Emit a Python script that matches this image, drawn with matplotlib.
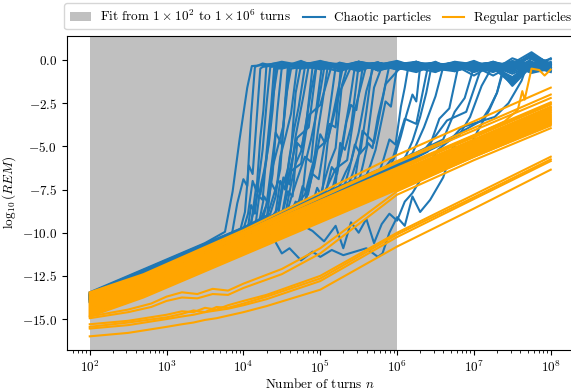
import numpy as np
import matplotlib
matplotlib.use("Agg")
import matplotlib.pyplot as plt
from matplotlib.patches import Patch
from matplotlib.lines import Line2D
from matplotlib.ticker import MultipleLocator

plt.rcParams.update({
    "font.family": "serif",
    "font.serif": ["cmr10"],
    "mathtext.fontset": "cm",
    "axes.formatter.use_mathtext": True,
    "font.size": 9.5,
})

BLUE = "#1f77b4"
ORANGE = "orange"
GREY = "#c0c0c0"

FIT_START, FIT_END = 1e2, 1e6

# ---- regular particles: log10(REM) against log10(n) ----
REG_EXP = [2, 2.7, 4, 6, 8]
REGULAR = [
    [-13.45, -12.40, -9.85, -5.50, -1.60],
    [-13.50, -12.45, -9.95, -5.85, -2.00],
    [-13.55, -12.48, -10.00, -5.95, -2.20],
    [-13.60, -12.50, -10.03, -6.24, -2.45],
    [-13.66, -12.56, -10.10, -6.31, -2.52],
    [-13.72, -12.62, -10.16, -6.37, -2.58],
    [-13.84, -12.74, -10.28, -6.49, -2.70],
    [-13.90, -12.80, -10.34, -6.54, -2.75],
    [-13.95, -12.85, -10.39, -6.61, -2.82],
    [-14.00, -12.90, -10.44, -6.66, -2.88],
    [-14.06, -12.96, -10.50, -6.72, -2.93],
    [-14.12, -13.02, -10.56, -6.78, -3.00],
    [-14.18, -13.08, -10.62, -6.84, -3.05],
    [-14.24, -13.14, -10.68, -6.90, -3.12],
    [-14.30, -13.20, -10.74, -6.96, -3.18],
    [-14.36, -13.26, -10.80, -7.02, -3.24],
    [-14.42, -13.32, -10.86, -7.08, -3.30],
    [-14.48, -13.38, -10.92, -7.14, -3.36],
    [-14.54, -13.44, -10.98, -7.20, -3.42],
    [-14.60, -13.50, -11.04, -7.26, -3.48],
    [-14.66, -13.56, -11.10, -7.32, -3.54],
    [-14.72, -13.62, -11.16, -7.38, -3.60],
    [-14.78, -13.68, -11.22, -7.44, -3.66],
    [-14.85, -13.75, -11.29, -7.51, -3.72],
]

SLOW_EXP = [2, 2.5, 2.8, 3.0, 3.2, 3.4, 3.6, 3.8, 4.0, 4.5, 5, 6, 7, 8]
REGULAR_SLOW = [
    [-14.85, -14.45, -14.10, -13.70, -13.45, -13.55, -13.25, -13.35, -12.95, -12.10, -10.90, -7.60, -5.60, -3.80],
    [-14.95, -14.60, -14.30, -13.95, -13.75, -13.80, -13.55, -13.60, -13.20, -12.40, -11.20, -7.80, -5.80, -3.95],
]

LOWER_EXP = [2, 2.5, 3, 3.2, 3.35, 3.5, 3.65, 3.8, 4, 4.3, 5, 6, 7, 8]
REGULAR_LOWER = [
    [-15.30, -15.10, -14.75, -14.55, -14.60, -14.35, -14.45, -14.20, -13.95, -13.60, -12.50, -10.00, -7.80, -5.60],
    [-15.45, -15.20, -14.90, -14.70, -14.50, -14.60, -14.30, -14.35, -14.10, -13.70, -12.65, -10.10, -7.95, -5.75],
    [-15.55, -15.35, -15.00, -14.85, -14.75, -14.60, -14.50, -14.40, -14.20, -13.85, -12.80, -10.25, -8.05, -5.85],
    [-16.00, -15.80, -15.45, -15.30, -15.20, -15.05, -14.95, -14.80, -14.60, -14.25, -13.30, -10.80, -8.60, -6.35],
]

# one regular orbit that turns chaotic near the end
LATE_EXP = [2, 2.7, 4, 6, 7.4, 7.57, 7.63, 7.66, 7.75, 7.85, 7.92, 8.0]
LATE_VAL = [-13.78, -12.68, -10.21, -6.41, -3.55, -2.90, -1.80, -2.30, -0.50, -0.58, -0.90, -0.55]

# ---- chaotic particles: growth phase, then saturation ----
CHAOTIC_EXP = [
    [2, 3, 3.5, 3.76, 3.86, 3.95, 4.05, 4.11],
    [2, 3, 3.85, 3.92, 4.0, 4.05, 4.1, 4.15],
    [2, 3, 3.95, 4.02, 4.07, 4.12, 4.16, 4.22],
    [2, 3, 4.0, 4.06, 4.12, 4.17, 4.22, 4.26, 4.3],
    [2, 3, 4.05, 4.1, 4.15, 4.2, 4.25, 4.3, 4.35],
    [2, 3, 4, 4.1, 4.17, 4.22, 4.3, 4.34, 4.38, 4.45],
    [2, 3, 4, 4.15, 4.22, 4.27, 4.33, 4.38, 4.42],
    [2, 3, 4, 4.2, 4.27, 4.32, 4.38, 4.44, 4.5],
    [2, 3, 4, 4.25, 4.32, 4.38, 4.45, 4.52, 4.56, 4.6],
    [2, 3, 4, 4.3, 4.36, 4.42, 4.48, 4.55, 4.62],
    [2, 3, 4, 4.35, 4.42, 4.48, 4.55, 4.62, 4.7],
    [2, 3, 4, 4.4, 4.48, 4.54, 4.6, 4.66, 4.72, 4.8],
    [2, 3, 4, 4.45, 4.52, 4.58, 4.62, 4.68, 4.75],
    [2, 3, 4, 4.5, 4.58, 4.64, 4.7, 4.76, 4.82, 4.9],
    [2, 3, 4, 4.55, 4.62, 4.68, 4.75, 4.82, 4.88, 4.95],
    [2, 3, 4, 4.6, 4.68, 4.75, 4.82, 4.88, 4.96, 5.05],
    [2, 3, 4, 4.7, 4.77, 4.84, 4.9, 4.97, 5.03, 5.1],
    [2, 3, 4, 4.8, 4.86, 4.92, 5.0, 5.06, 5.12, 5.2],
    [2, 3, 4, 4.9, 4.96, 5.02, 5.1, 5.16, 5.22, 5.3],
    [2, 3, 4, 5.0, 5.06, 5.12, 5.2, 5.28, 5.35],
    [2, 3, 4, 5.05, 5.12, 5.2, 5.26, 5.32, 5.4, 5.5],
    [2, 3, 4, 5, 5.15, 5.22, 5.28, 5.34, 5.4, 5.47, 5.55],
    [2, 3, 4, 5, 5.25, 5.33, 5.4, 5.5, 5.6, 5.7],
    [2, 3, 4, 5, 5.35, 5.42, 5.5, 5.6, 5.7, 5.8],
    [2, 3, 4, 5, 5.5, 5.56, 5.62, 5.68, 5.75, 5.82, 5.9],
    [2, 3, 4, 5, 5.6, 5.66, 5.72, 5.78, 5.85, 5.92, 6.0],
    [2, 3, 4, 5, 5.75, 5.82, 5.9, 5.98, 6.05, 6.1, 6.15],
    [2, 3, 4, 5, 5.9, 5.97, 6.05, 6.12, 6.2, 6.25, 6.3],
    [2, 3, 4, 5, 6.05, 6.12, 6.2, 6.25, 6.3, 6.38, 6.45],
    [2, 3, 4, 5, 6, 6.2, 6.35, 6.5, 6.6],
    [2, 3, 4, 5, 6, 6.4, 6.55, 6.68, 6.8],
    [2, 3, 4, 5, 6, 6.6, 6.75, 6.88, 7.0],
    [2, 3, 4, 5, 6, 6.8, 6.95, 7.1, 7.25],
    [2, 3, 4, 4.25, 4.4, 4.5, 4.6, 4.75, 4.9, 5.0, 5.15, 5.3, 5.45, 5.6, 5.75,
     5.81, 5.9, 6.0, 6.1, 6.2, 6.3, 6.43, 6.6, 6.73, 6.9, 7.05, 7.2, 7.3, 7.38],
    [2, 3, 4, 4.5, 4.7, 4.9, 5.05, 5.2, 5.3, 5.4, 5.5, 5.6, 5.7, 5.8, 5.9, 6.0,
     6.1, 6.2, 6.35, 6.53, 6.7, 6.84, 7.05, 7.27, 7.45, 7.62, 7.7],
    [2, 3, 4, 5, 6, 6.5, 7.1, 7.2, 7.3, 7.4],
    [2, 3, 4, 4.3, 4.45, 4.55, 4.7, 4.85, 4.95],
    [2, 3, 4, 4.5, 4.6, 4.75, 4.85, 5.0, 5.15],
    [2, 3, 4, 4.65, 4.8, 4.95, 5.1, 5.25, 5.4],
    [2, 3, 4, 5, 5.2, 5.35, 5.45, 5.6],
    [2, 3, 4, 5, 5.45, 5.55, 5.7, 5.85, 6.05],
    [2, 3, 4, 4.2, 4.3, 4.42, 4.5, 4.58],
    [2, 3, 4, 5, 5.8, 5.95, 6.1, 6.25, 6.4],
    [2, 3, 4, 5, 6, 6.3, 6.5, 6.65, 6.9, 7.1],
    [2, 3, 4, 4.35, 4.45, 4.52, 4.6, 4.68, 4.78, 4.85],
    [2, 3, 4, 4.55, 4.62, 4.7, 4.8, 4.88, 4.95, 5.02],
    [2, 3, 4, 4.75, 4.82, 4.9, 4.98, 5.05, 5.12, 5.2, 5.27],
    [2, 3, 4, 5, 5.08, 5.15, 5.22, 5.3, 5.38, 5.45],
    [2, 3, 4, 5, 5.3, 5.38, 5.45, 5.52, 5.6, 5.68],
    [2, 3, 4, 4.1, 4.18, 4.25, 4.3, 4.36, 4.4],
]
CHAOTIC_VAL = [
    [-13.45, -11.55, -10.6, -9.95, -7.6, -4.6, -1.6, -0.35],
    [-13.65, -11.8, -10.1, -8.3, -6.9, -7.3, -3.2, -0.4],
    [-13.8, -11.9, -10.0, -8.8, -6.1, -6.6, -4.2, -0.5],
    [-13.55, -11.7, -9.8, -8.9, -7.0, -7.6, -4.5, -2.9, -0.3],
    [-13.9, -12.0, -10.0, -8.4, -8.9, -6.9, -5.2, -2.6, -0.4],
    [-13.7, -11.8, -9.9, -9.5, -7.2, -7.8, -5.8, -4.1, -2.3, -0.3],
    [-14.0, -12.1, -10.2, -9.8, -7.4, -6.4, -4.9, -2.9, -0.5],
    [-13.8, -11.9, -10.0, -9.5, -7.9, -8.3, -6.6, -3.0, -0.4],
    [-13.6, -11.75, -9.85, -9.3, -8.0, -6.2, -5.0, -3.8, -2.2, -0.3],
    [-13.9, -12.0, -10.05, -9.3, -7.1, -7.6, -6.3, -2.2, -0.5],
    [-13.5, -11.6, -9.7, -8.9, -7.9, -5.6, -4.4, -3.1, -0.3],
    [-14.05, -12.1, -10.2, -9.4, -7.0, -7.5, -5.6, -4.0, -2.7, -0.4],
    [-13.7, -11.8, -9.9, -9.0, -7.2, -6.3, -5.2, -1.9, -0.3],
    [-13.8, -11.9, -10.0, -9.0, -7.6, -7.9, -4.8, -5.1, -3.6, -0.4],
    [-13.6, -11.7, -9.8, -8.8, -7.2, -6.0, -5.3, -3.5, -1.8, -0.3],
    [-13.95, -12.05, -10.15, -9.0, -8.2, -8.5, -5.7, -4.6, -2.9, -0.5],
    [-13.75, -11.85, -9.95, -8.6, -7.3, -7.8, -6.5, -4.1, -2.4, -0.3],
    [-13.55, -11.65, -9.75, -8.2, -7.1, -6.2, -4.3, -4.8, -3.0, -0.4],
    [-13.85, -11.95, -10.05, -8.3, -7.4, -7.9, -4.6, -3.3, -2.0, -0.3],
    [-13.65, -11.75, -9.85, -7.9, -6.9, -6.0, -5.1, -1.5, -0.4],
    [-14.0, -12.1, -10.2, -8.2, -7.6, -7.2, -4.8, -5.2, -3.9, -0.3],
    [-13.7, -11.8, -9.9, -8.0, -7.6, -6.4, -5.3, -3.6, -2.6, -2.9, -0.5],
    [-13.6, -11.7, -9.8, -7.9, -7.3, -6.5, -5.9, -4.2, -1.8, -0.3],
    [-13.9, -12.0, -10.1, -8.2, -7.4, -6.6, -5.5, -5.0, -1.6, -0.4],
    [-13.75, -11.85, -9.95, -8.05, -7.1, -6.0, -4.8, -5.1, -3.3, -2.0, -0.3],
    [-13.55, -11.65, -9.75, -7.85, -6.7, -6.0, -5.2, -3.9, -2.4, -2.7, -0.4],
    [-13.8, -11.9, -10.0, -8.1, -6.7, -5.8, -4.6, -4.9, -2.7, -1.6, -0.3],
    [-13.65, -11.75, -9.85, -7.95, -6.2, -5.6, -4.4, -3.2, -2.0, -2.4, -0.4],
    [-13.7, -11.8, -9.9, -8.0, -6.0, -5.5, -4.7, -4.0, -3.3, -1.9, -0.3],
    [-13.6, -11.7, -9.8, -7.9, -6.0, -5.4, -3.9, -2.1, -0.4],
    [-13.85, -11.95, -10.05, -8.15, -6.25, -5.3, -3.4, -2.8, -0.3],
    [-13.5, -11.6, -9.7, -7.8, -5.9, -4.6, -3.0, -2.2, -0.4],
    [-13.75, -11.85, -9.95, -8.05, -6.15, -4.4, -3.3, -1.5, -0.3],
    [-13.9, -12.0, -10.1, -9.6, -10.4, -11.2, -10.9, -11.6, -11.1, -11.4, -11.0,
     -11.3, -11.1, -10.9, -11.4, -11.2, -10.0, -9.1, -9.6, -7.9, -8.8, -8.1,
     -6.8, -5.0, -5.4, -4.1, -2.9, -1.9, -0.5],
    [-13.6, -11.7, -9.8, -9.0, -9.4, -9.9, -10.5, -9.6, -10.9, -9.4, -10.0, -9.2,
     -10.6, -9.5, -8.9, -9.3, -8.2, -7.7, -6.6, -5.2, -4.6, -3.9, -3.6, -3.3,
     -2.5, -1.2, -0.2],
    [-13.65, -11.75, -9.85, -7.95, -6.05, -5.0, -3.5, -2.8, -1.9, -0.4],
    [-13.7, -11.8, -9.9, -9.2, -7.0, -7.4, -4.5, -3.9, -0.4],
    [-13.8, -11.9, -10.0, -9.0, -6.5, -6.0, -3.2, -2.6, -0.3],
    [-13.6, -11.7, -9.8, -8.5, -7.8, -5.2, -4.6, -1.9, -0.4],
    [-13.9, -12.0, -10.1, -8.2, -6.3, -5.8, -2.9, -0.3],
    [-13.75, -11.85, -9.95, -8.05, -7.0, -4.1, -4.8, -1.4, -0.4],
    [-13.65, -11.75, -9.85, -9.5, -8.4, -4.2, -4.9, -0.3],
    [-13.7, -11.8, -9.9, -8.0, -6.5, -5.6, -3.4, -3.7, -0.4],
    [-13.8, -11.9, -10.0, -8.1, -6.2, -5.5, -4.4, -3.5, -3.0, -0.4],
    [-13.75, -11.85, -9.95, -9.2, -8.6, -6.8, -7.2, -4.4, -2.1, -0.35],
    [-13.85, -11.95, -10.05, -9.1, -8.0, -6.9, -5.6, -5.9, -2.8, -0.4],
    [-13.6, -11.7, -9.8, -8.5, -8.0, -6.6, -6.9, -5.0, -3.7, -3.9, -0.3],
    [-13.7, -11.8, -9.9, -8.0, -7.5, -6.2, -6.6, -4.5, -2.5, -0.4],
    [-13.8, -11.9, -10.0, -8.1, -7.5, -6.3, -4.9, -5.4, -3.0, -0.3],
    [-13.65, -11.75, -9.85, -9.4, -7.8, -8.1, -5.4, -2.7, -0.45],
]
# saturated values, sampled on the grid below from the first point after the jump
PLATEAU_EXP = [4.25, 4.5, 4.75, 5.0, 5.25, 5.5, 5.75, 6.0,
               6.25, 6.5, 6.75, 7.0, 7.25, 7.5, 7.75, 8.0]
CHAOTIC_PLATEAU = [
    [-0.3, -0.15, -0.4, -0.25, -0.5, -0.2, -0.35, -0.1, -0.45, -0.3, -0.2, -0.55, -0.25, -0.4, -0.15, -0.35],
    [-0.2, -0.45, -0.1, -0.35, -0.25, -0.55, -0.3, -0.4, -0.15, -0.5, -0.35, -0.2, -0.6, 0.1, -0.3, -0.5],
    [-0.4, -0.25, -0.3, -0.05, -0.35, -0.45, -0.2, -0.3, -0.55, -0.25, -0.4, -0.3, -0.15, -0.45, 0.3, -0.2],
    [-0.1, -0.3, -0.5, -0.2, -0.4, -0.15, -0.45, -0.25, -0.35, -0.6, -0.2, -0.4, -0.3, -0.1, -0.55],
    [-0.35, -0.2, -0.15, -0.45, -0.3, -0.5, -0.25, -0.1, -0.4, -0.3, -0.9, -0.25, -0.45, -0.2, -0.4],
    [-0.25, -0.5, -0.3, -0.35, -0.1, -0.4, -0.3, -0.55, -0.2, -0.45, -0.3, -0.15, -1.2, -0.35, -0.25],
    [-0.45, -0.3, -0.2, -0.55, -0.25, -0.35, -0.45, -0.15, -0.3, -0.25, -0.5, -0.35, -0.2, 0.45, -0.3],
    [-0.2, -0.35, -0.45, -0.1, -0.3, -0.2, -0.5, -0.4, -0.15, -0.35, -0.6, -0.3, -0.45, -0.6],
    [-0.3, -0.1, -0.25, -0.4, -0.5, -0.3, -0.2, -0.35, -0.45, -0.25, -0.15, -1.5, -0.35, -0.2],
    [-0.4, -0.5, -0.2, -0.3, -0.15, -0.45, -0.35, -0.25, -0.55, -0.2, -0.4, -0.3, 0.2, -0.45],
    [-0.15, -0.3, -0.35, -0.5, -0.25, -0.1, -0.4, -0.3, -0.2, -0.5, -0.3, -0.45, -0.25, -0.35],
    [-0.35, -0.2, -0.45, -0.3, -0.4, -0.25, -0.15, -0.5, -0.35, -0.2, -0.4, -0.7, -0.1],
    [-0.25, -0.4, -0.1, -0.3, -0.55, -0.35, -0.2, -0.3, -0.45, -0.15, -0.3, -0.5, -0.3],
    [-0.5, -0.25, -0.35, -0.2, -0.3, -0.45, -0.4, -0.1, -0.25, -0.6, -0.35, -0.2, -0.4],
    [-0.2, -0.35, -0.3, -0.45, -0.15, -0.25, -0.5, -0.35, -0.3, -0.4, -1.0, -0.3, -0.6],
    [-0.3, -0.45, -0.2, -0.35, -0.25, -0.4, -0.3, -0.55, -0.2, -0.35, 0.35, -0.25],
    [-0.4, -0.2, -0.3, -0.15, -0.45, -0.35, -0.25, -0.3, -0.5, -0.2, -0.45, -0.35],
    [-0.15, -0.4, -0.35, -0.25, -0.3, -0.2, -0.45, -0.15, -0.35, -0.8, -0.3, -0.45],
    [-0.35, -0.25, -0.5, -0.3, -0.2, -0.4, -0.3, -0.25, -0.55, -0.3, -0.2],
    [-0.25, -0.3, -0.2, -0.45, -0.35, -0.15, -0.4, -0.3, -0.2, -0.4, -0.65],
    [-0.4, -0.2, -0.35, -0.3, -0.25, -0.5, -0.35, -1.3, -0.25, -0.4],
    [-0.3, -0.45, -0.25, -0.2, -0.4, -0.3, -0.15, -0.45, 0.25, -0.3],
    [-0.2, -0.35, -0.3, -0.5, -0.25, -0.35, -0.6, -0.3, -0.4, -0.2],
    [-0.35, -0.2, -0.4, -0.3, -0.45, -0.2, -0.35, -0.5, -0.3],
    [-0.25, -0.4, -0.3, -0.15, -0.35, -0.9, -0.3, -0.2, -0.45],
    [-0.3, -0.2, -0.45, -0.35, -0.25, -0.4, -0.3, -0.55],
    [-0.4, -0.3, -0.2, -0.5, -0.35, -0.25, 0.15, -0.35],
    [-0.25, -0.45, -0.3, -0.35, -1.1, -0.4, -0.3],
    [-0.35, -0.2, -0.4, -0.3, -0.25, -0.5, -0.2],
    [-0.3, -0.45, -0.25, -0.35, -0.6, -0.4],
    [-0.2, -0.35, -0.5, -0.3, -0.25],
    [-0.4, -0.3, -0.7, -0.35],
    [-0.35, -0.25, -0.5],
    [-0.3, -0.5, -0.35],
    [0.1, -0.3],
    [-0.45, -0.2, -0.4],
    [-0.45, -0.2, -0.6, -0.3, -0.05, -0.4, -0.5, -0.25, -0.7, -0.35, -0.1, -0.45, -0.3],
    [-0.55, -0.3, -0.15, -0.45, -0.7, -0.25, -0.4, -0.05, -0.5, -0.3, 0.2, -0.6],
    [-0.1, -0.6, -0.35, -0.2, -0.5, -0.65, -0.3, -0.45, -1.0, -0.15, -0.4],
    [-0.6, -0.25, -0.45, -0.7, -0.2, -0.35, -0.55, -0.05, -0.35, -0.7],
    [-0.5, -0.1, -0.65, -0.3, -0.45, -1.4, -0.2, 0.05],
    [-0.05, -0.55, -0.3, -0.65, -0.2, -0.4, -0.1, -0.6, -0.3, -0.5, -0.25, -0.65, 0.35, -0.45],
    [-0.65, -0.4, -0.1, -0.55, -0.3, -0.75, -0.5],
    [-0.3, -0.6, 0.05, -0.55],
    [-0.25, -0.5, -0.15, -0.6, -0.35, -0.2, -0.45, -0.3, -0.65, -0.1, -0.4, -0.25, -0.55],
    [-0.35, -0.6, -0.2, -0.45, -0.1, -0.55, -0.3, -0.4, -0.7, -0.25, -0.5, 0.1],
    [-0.4, -0.15, -0.55, -0.3, -0.6, -0.2, -0.45, -0.35, -0.1, -0.5, -0.3],
    [-0.2, -0.5, -0.35, -0.65, -0.25, -0.4, -0.1, -0.55, -0.3, 0.25, -0.45],
    [-0.45, -0.25, -0.6, -0.35, -0.15, -0.5, -0.3, -0.7, -0.2, -0.4],
    [-0.5, -0.2, -0.4, -0.65, -0.3, -0.15, -0.55, -0.35, -0.25, -0.6, -0.4, -0.1, -0.5, -0.3, -0.6],
]

fig = plt.figure(figsize=(5.71, 3.90), dpi=100)
ax = fig.add_axes([0.1168, 0.1026, 0.8881, 0.8051])

ax.axvspan(FIT_START, FIT_END, color=GREY, lw=0, zorder=0)

for exps, vals, plat in zip(CHAOTIC_EXP, CHAOTIC_VAL, CHAOTIC_PLATEAU):
    grid = [e for e in PLATEAU_EXP if e > exps[-1]]
    x = list(exps) + grid[:len(plat)]
    y = list(vals) + list(plat)
    ax.plot(10.0 ** np.array(x), y, color=BLUE, lw=1.5)

for vals in REGULAR:
    ax.plot(10.0 ** np.array(REG_EXP), vals, color=ORANGE, lw=1.5)
for vals in REGULAR_SLOW:
    ax.plot(10.0 ** np.array(SLOW_EXP), vals, color=ORANGE, lw=1.5)
for vals in REGULAR_LOWER:
    ax.plot(10.0 ** np.array(LOWER_EXP), vals, color=ORANGE, lw=1.5)
ax.plot(10.0 ** np.array(LATE_EXP), LATE_VAL, color=ORANGE, lw=1.5)

ax.set_xscale("log")
ax.set_xlim(10 ** 1.7, 10 ** 8.3)
ax.set_ylim(-16.79, 1.39)
ax.yaxis.set_major_locator(MultipleLocator(2.5))
ax.set_xlabel(r"Number of turns $n$", labelpad=1)
ax.set_ylabel(r"$\log_{10}(REM)$", labelpad=3)

handles = [
    Patch(facecolor=GREY, label=r"Fit from $1\times10^{2}$ to $1\times10^{6}$ turns"),
    Line2D([], [], color=BLUE, lw=1.5, label="Chaotic particles"),
    Line2D([], [], color=ORANGE, lw=1.5, label="Regular particles"),
]
ax.legend(handles=handles, loc="lower center", bbox_to_anchor=(0.5, 1.0), ncol=3,
          handlelength=1.6, handletextpad=0.7, columnspacing=0.95)

fig.savefig("out.png", dpi=100)
